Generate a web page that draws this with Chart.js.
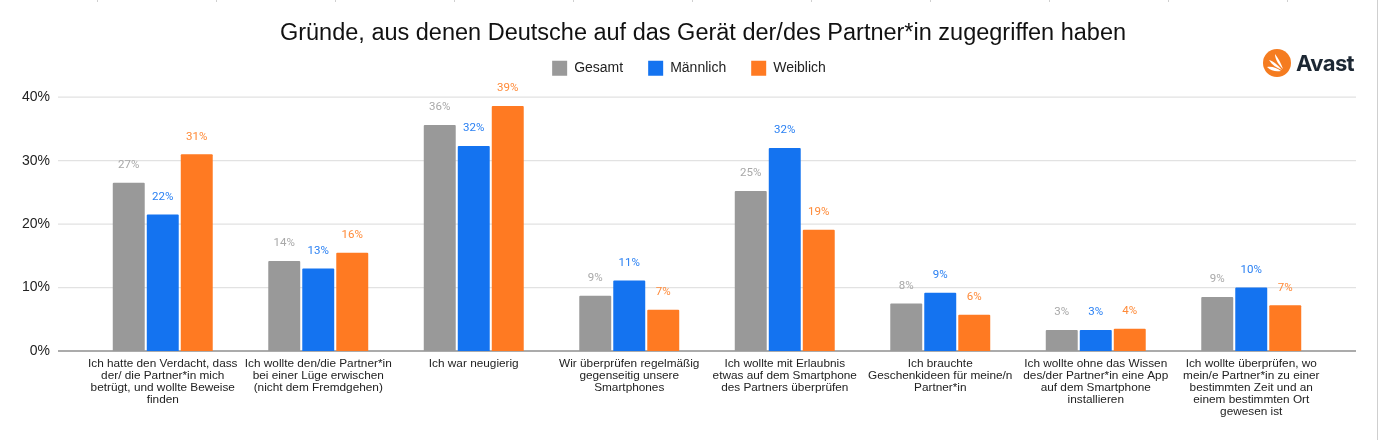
<!DOCTYPE html>
<html>
<head>
<meta charset="utf-8">
<title>Avast Chart</title>
<script src="https://cdn.jsdelivr.net/npm/chart.js@4/dist/chart.umd.min.js"></script>
<style>
  html, body { margin: 0; padding: 0; background: #fff; overflow: hidden; }
  #wrap { position: relative; width: 1384px; height: 440px; }
  #edge { position: absolute; left: 1377px; top: 0; width: 1px; height: 440px; background: #cfcfcf; }
  #marks { position: absolute; left: 97px; top: 0; width: 1195px; height: 2px; background: repeating-linear-gradient(90deg, #d0d0d0 0 1px, transparent 1px 119px); }
  #logo { position: absolute; left: 1263px; top: 49px; width: 28px; height: 28px; }
  #brand { position: absolute; left: 1296px; top: 50px; font: 700 22px/26px Inter, sans-serif; letter-spacing: -0.6px; color: #1c2733; }
</style>
</head>
<body>
<div id="wrap">
  <canvas id="chart" width="1384" height="440"></canvas>
  <div id="edge"></div>
  <div id="marks"></div>
  <svg id="logo" viewBox="0 0 28 28">
    <circle cx="14" cy="14" r="14" fill="#f57c20"/>
    <path d="M12 5 C15 9 18 14 20 20 C16 16 12 11 12 5Z" fill="#fff"/>
    <path d="M6 11 C10 12 15 16 19 21 C14 19 9 16 6 11Z" fill="#fff"/>
    <path d="M4 18 C9 17 14 19 18 22 C13 23 8 22 4 18Z" fill="#fff"/>
  </svg>
  <div id="brand">Avast</div>
</div>
<script>
const categories = [
  ['Ich hatte den Verdacht, dass', 'der/ die Partner*in mich', 'betrügt, und wollte Beweise', 'finden'],
  ['Ich wollte den/die Partner*in', 'bei einer Lüge erwischen', '(nicht dem Fremdgehen)'],
  ['Ich war neugierig'],
  ['Wir überprüfen regelmäßig', 'gegenseitig unsere', 'Smartphones'],
  ['Ich wollte mit Erlaubnis', 'etwas auf dem Smartphone', 'des Partners überprüfen'],
  ['Ich brauchte', 'Geschenkideen für meine/n', 'Partner*in'],
  ['Ich wollte ohne das Wissen', 'des/der Partner*in eine App', 'auf dem Smartphone', 'installieren'],
  ['Ich wollte überprüfen, wo', 'mein/e Partner*in zu einer', 'bestimmten Zeit und an', 'einem bestimmten Ort', 'gewesen ist']
];
const gesamt = [26.5, 14.2, 35.6, 8.7, 25.2, 7.5, 3.3, 8.5];
const maennlich = [21.5, 13, 32.3, 11.1, 32, 9.2, 3.3, 10];
const weiblich = [31, 15.5, 38.6, 6.5, 19.1, 5.7, 3.5, 7.2];
const yTicks = [0, 10, 20, 30, 40];

const sans = '"Liberation Sans", Arial, sans-serif';

// title and legend are not centred on the plot, nudge them into place
const placeBlocks = {
  id: 'placeBlocks',
  afterLayout(chart) {
    const t = chart.titleBlock, l = chart.legend;
    t.left += 38.5; t.right += 38.5; t.top += 0.5;
    l.left += 24.5; l.right += 24.5; l.top -= 11.5;
  }
};

// gridlines run wider than the category band, so they are drawn here
const wideGrid = {
  id: 'wideGrid',
  beforeDatasetsDraw(chart) {
    const { ctx, scales: { y } } = chart;
    ctx.save();
    yTicks.forEach(t => {
      const py = y.getPixelForValue(t);
      ctx.strokeStyle = t === 0 ? '#8f8f8f' : '#e2e2e2';
      ctx.lineWidth = t === 0 ? 1.5 : 1.3;
      ctx.beginPath();
      ctx.moveTo(58, py);
      ctx.lineTo(1356, py);
      ctx.stroke();
    });
    ctx.restore();
  }
};

// value labels above the bars
const barLabels = {
  id: 'barLabels',
  afterDatasetsDraw(chart) {
    const { ctx } = chart;
    ctx.save();
    ctx.font = '400 11.5px Roboto, sans-serif';
    ctx.textAlign = 'center';
    ctx.textBaseline = 'middle';
    chart.data.datasets.forEach((ds, i) => {
      ctx.fillStyle = ds.labelColor;
      chart.getDatasetMeta(i).data.forEach((bar, j) => {
        ctx.fillText(Math.round(ds.data[j]) + '%', bar.x, bar.y - 17.5);
      });
    });
    ctx.restore();
  }
};

new Chart(document.getElementById('chart'), {
  type: 'bar',
  data: {
    labels: categories,
    datasets: [
      { label: 'Gesamt', data: gesamt, backgroundColor: '#999999', labelColor: '#a8a8a8' },
      { label: 'Männlich', data: maennlich, backgroundColor: '#1473f0', labelColor: '#2a80f3' },
      { label: 'Weiblich', data: weiblich, backgroundColor: '#ff7a22', labelColor: '#ff8a38' }
    ]
  },
  options: {
    responsive: false,
    animation: false,
    categoryPercentage: 0.656,
    barPercentage: 0.94,
    borderRadius: 1,
    layout: { padding: { top: 19, right: 55, bottom: 0, left: 0 } },
    plugins: {
      title: {
        display: true,
        text: 'Gründe, aus denen Deutsche auf das Gerät der/des Partner*in zugegriffen haben',
        color: '#111111',
        font: { family: sans, size: 23.5, weight: 'normal' },
        padding: { top: 0, bottom: 0 }
      },
      legend: {
        position: 'top',
        labels: {
          boxWidth: 15,
          boxHeight: 15,
          padding: 25,
          color: '#222222',
          font: { family: sans, size: 14 }
        }
      },
      tooltip: { enabled: false }
    },
    scales: {
      x: {
        grid: { display: false, drawTicks: false },
        border: { display: false },
        afterFit(scale) { scale.height = 89; },
        ticks: {
          autoSkip: false,
          maxRotation: 0,
          padding: 7,
          color: '#222222',
          font: { family: sans, size: 11.8, lineHeight: 1.02 }
        }
      },
      y: {
        min: 0,
        max: 40,
        grid: { display: false, drawTicks: false },
        border: { display: false },
        afterFit(scale) { scale.width = 85; },
        afterBuildTicks(scale) { scale.ticks = yTicks.map(v => ({ value: v })); },
        ticks: {
          padding: 35,
          color: '#222222',
          font: { family: sans, size: 14 },
          callback: v => v + '%'
        }
      }
    }
  },
  plugins: [placeBlocks, wideGrid, barLabels]
});
</script>
</body>
</html>
